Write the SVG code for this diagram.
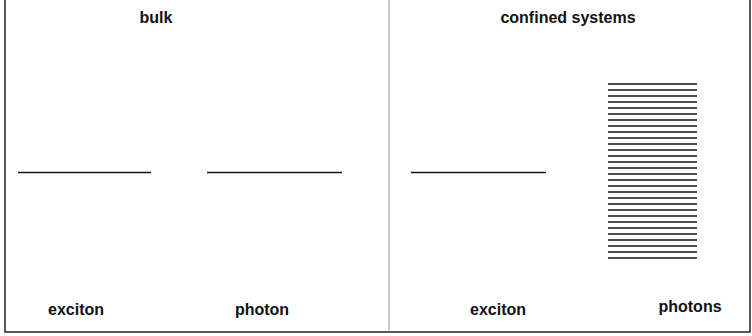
<svg xmlns="http://www.w3.org/2000/svg" width="752" height="336" viewBox="0 0 752 336">
<style>
.frame{stroke:#222;stroke-width:1.5;fill:none}
.lvl{stroke:#111;stroke-width:1.4}
.t{font-family:"Liberation Sans",Arial,sans-serif;font-size:16px;font-weight:bold;fill:#111;text-anchor:middle}
</style>
<rect width="752" height="336" fill="#fff"/>
<g id="frame">
<path class="frame" d="M5,0 V332 H750 V0"/>
<line x1="389" y1="0" x2="389" y2="332" stroke="#777" stroke-width="0.8"/>
</g>
<g id="bulk">
<text class="t" x="156" y="23">bulk</text>
</g>
<g id="confined">
<text class="t" x="568" y="23">confined systems</text>
</g>
<g id="bulk-exciton">
<line class="lvl" x1="18" y1="172.5" x2="151" y2="172.5"/>
<text class="t" x="76" y="315">exciton</text>
</g>
<g id="bulk-photon">
<line class="lvl" x1="207" y1="172.5" x2="342" y2="172.5"/>
<text class="t" x="262" y="315">photon</text>
</g>
<g id="conf-exciton">
<line class="lvl" x1="411" y1="172.5" x2="546" y2="172.5"/>
<text class="t" x="498" y="315">exciton</text>
</g>
<g id="conf-photons">
<path class="lvl" d="M608,84H697M608,90H697M608,96H697M608,102H697M608,108H697M608,114H697M608,120H697M608,126H697M608,132H697M608,138H697M608,144H697M608,150H697M608,156H697M608,162H697M608,168H697M608,174H697M608,180H697M608,186H697M608,192H697M608,198H697M608,204H697M608,210H697M608,216H697M608,222H697M608,228H697M608,234H697M608,240H697M608,246H697M608,252H697M608,258H697"/>
<text class="t" x="690" y="312">photons</text>
</g>
</svg>
